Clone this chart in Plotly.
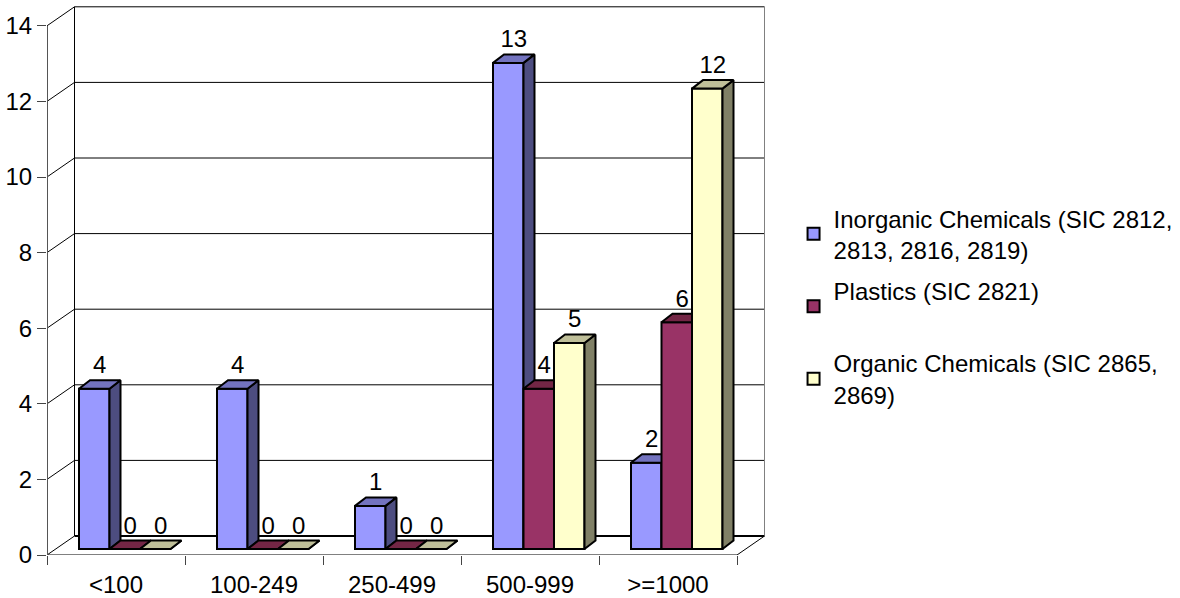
import plotly.graph_objects as go

categories = ["<100", "100-249", "250-499", "500-999", ">=1000"]
series_names = ["Inorganic Chemicals (SIC 2812,<br>2813, 2816, 2819)", "Plastics (SIC 2821)<br> ", "Organic Chemicals (SIC 2865,<br>2869)"]
inorganic = [4.24, 4.24, 1.14, 12.86, 2.28]
plastics = [0, 0, 0, 4.24, 6.0]
organic = [0, 0, 0, 5.45, 12.18]
y_ticks = [0, 2, 4, 6, 8, 10, 12, 14]

front = ["#9999FF", "#993366", "#FFFFCC"]
side = ["#4D4D80", "#4D1A33", "#808066"]
top = ["#7373BF", "#732645", "#BFBF99"]

# geometry in axis units (1 x unit = one category, 1 y unit = one count)
PX_X, PX_Y = 138.0, 37.8
WALL_DX, WALL_DY = 27.5 / PX_X, 19 / PX_Y
BAR_W, BAR_START = 30.5 / PX_X, 32 / PX_X
BASE = 6 / PX_Y
DX, DY = 11 / PX_X, 8.5 / PX_Y
N = len(categories)
FONT = "Liberation Sans, Arial, sans-serif"
FS = 24

fig = go.Figure()


def line(xs, ys, color="black", width=1, z=0):
    fig.add_trace(go.Scatter(x=xs, y=ys, mode="lines", line=dict(color=color, width=width),
                             showlegend=False, hoverinfo="skip", zorder=z, cliponaxis=False))


# walls and gridlines
for t in y_ticks:
    bx, by = WALL_DX, t + WALL_DY
    line([0, bx, N + WALL_DX] if t else [0, bx], [t, by, by] if t else [0, by])
line([WALL_DX, N + WALL_DX], [WALL_DY, WALL_DY], width=2)
line([WALL_DX, WALL_DX], [WALL_DY, 14 + WALL_DY])
line([N + WALL_DX, N + WALL_DX], [WALL_DY, 14 + WALL_DY], color="#808080")
line([N, N + WALL_DX], [0, WALL_DY])
line([0, N], [0, 0])
line([0, 0], [0, 14], color="#555555", width=2)

# bars
all_series = [inorganic, plastics, organic]
label_x, label_y, label_t = [], [], []
for i, vals in enumerate(all_series):
    xs = [k + BAR_START + i * BAR_W for k in range(N)]
    z = i + 1
    for x0, v in zip(xs, vals):
        x1 = x0 + BAR_W
        yt = BASE + v
        fig.add_trace(go.Scatter(
            x=[x1, x1 + DX, x1 + DX, x1, x1], y=[BASE, BASE + DY, yt + DY, yt, BASE],
            mode="lines", fill="toself", fillcolor=side[i], line=dict(color="black", width=2),
            showlegend=False, hoverinfo="skip", zorder=z))
        fig.add_trace(go.Scatter(
            x=[x0, x0 + DX, x1 + DX, x1, x0], y=[yt, yt + DY, yt + DY, yt, yt],
            mode="lines", fill="toself", fillcolor=top[i], line=dict(color="black", width=2),
            showlegend=False, hoverinfo="skip", zorder=z))
        label_x.append(x0 + BAR_W / 2 + DX / 2)
        label_y.append(yt + DY + 13 / PX_Y)
        label_t.append(f"{v:.0f}")
    fig.add_trace(go.Bar(
        x=xs, y=vals, base=[BASE] * N, width=BAR_W, offset=0, name=series_names[i],
        legendgroup=str(i), marker=dict(color=front[i], line=dict(color="black", width=2)),
        hoverinfo="skip", zorder=z))

fig.add_trace(go.Scatter(x=label_x, y=label_y, text=label_t, mode="text", textposition="middle center",
                         textfont=dict(size=FS, color="black", family=FONT),
                         showlegend=False, hoverinfo="skip", zorder=6, cliponaxis=False))

fig.update_layout(
    width=1180, height=598, margin=dict(l=47, r=410, t=5, b=43, autoexpand=False),
    paper_bgcolor="white", plot_bgcolor="white", barmode="overlay",
    font=dict(family=FONT, size=FS, color="black"),
    legend=dict(xref="container", yref="container", x=0.6725, y=0.672, xanchor="left", yanchor="top",
                bgcolor="rgba(0,0,0,0)", tracegroupgap=7, font=dict(size=FS),
                itemclick=False, itemdoubleclick=False),
    xaxis=dict(range=[0, 723 / PX_X], tickvals=[k + 0.5 for k in range(N)], ticktext=categories,
               ticks="outside", ticklen=8, tickcolor="rgba(0,0,0,0)", showgrid=False, zeroline=False,
               showline=False,
               minor=dict(tickmode="array", tickvals=list(range(N + 1)), ticks="outside", ticklen=9,
                          tickcolor="#444444", tickwidth=1, showgrid=False)),
    yaxis=dict(range=[0, 550 / PX_Y], tickvals=y_ticks, ticks="outside", ticklen=9, tickcolor="#444444",
               showgrid=False, zeroline=False, showline=False),
)

fig.write_html("out.html", config={"displayModeBar": False}, post_script="document.body.style.margin='0';")
